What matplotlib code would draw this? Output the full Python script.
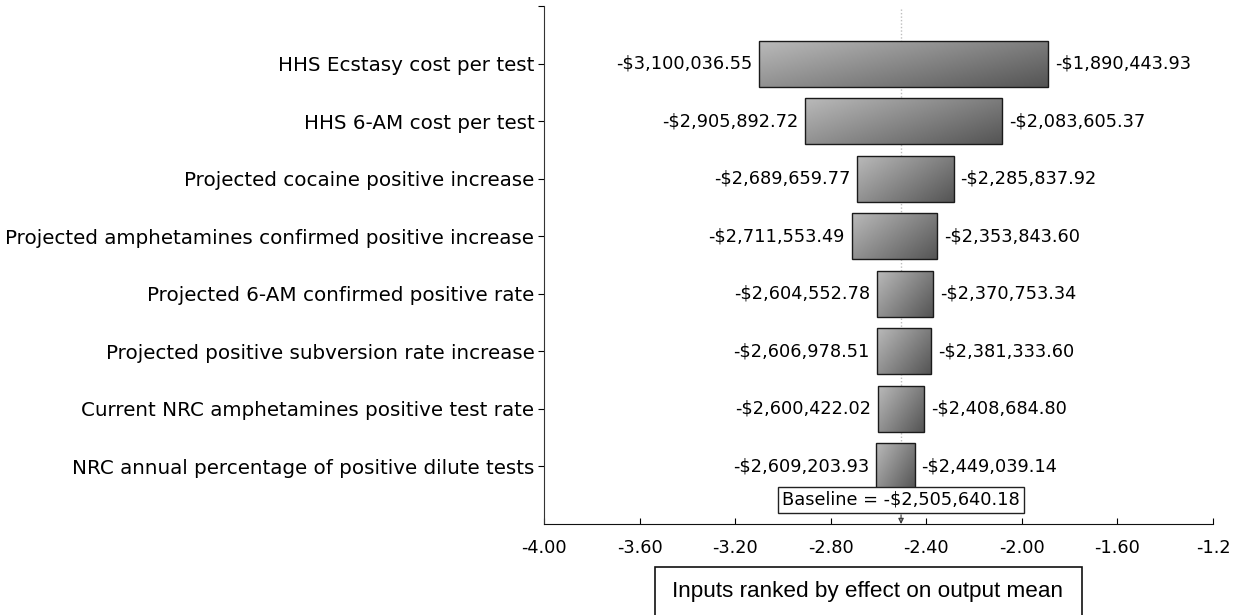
import numpy as np
import matplotlib
matplotlib.use("Agg")
import matplotlib.pyplot as plt
from matplotlib.colors import LinearSegmentedColormap
from matplotlib.patches import Rectangle

categories = [
    "HHS Ecstasy cost per test",
    "HHS 6-AM cost per test",
    "Projected cocaine positive increase",
    "Projected amphetamines confirmed positive increase",
    "Projected 6-AM confirmed positive rate",
    "Projected positive subversion rate increase",
    "Current NRC amphetamines positive test rate",
    "NRC annual percentage of positive dilute tests",
]
low_values = [-3100036.55, -2905892.72, -2689659.77, -2711553.49,
              -2604552.78, -2606978.51, -2600422.02, -2609203.93]
high_values = [-1890443.93, -2083605.37, -2285837.92, -2353843.60,
               -2370753.34, -2381333.60, -2408684.80, -2449039.14]
baseline = -2505640.18
x_ticks = [-4.0, -3.6, -3.2, -2.8, -2.4, -2.0, -1.6, -1.2]
x_tick_labels = ["-4.00", "-3.60", "-3.20", "-2.80", "-2.40", "-2.00", "-1.60", "-1.2"]
x_title = "Inputs ranked by effect on output mean"

W, H = 1236, 615
fig = plt.figure(figsize=(W / 100, H / 100), dpi=100)
ax_left, ax_right, ax_top, ax_bot = 544, 1213, 6, 524
ax = fig.add_axes([ax_left / W, 1 - ax_bot / H, (ax_right - ax_left) / W, (ax_bot - ax_top) / H])

font = {"family": "DejaVu Sans"}
fs = 12.8
fs_cat = 14.3

cmap = LinearSegmentedColormap.from_list("g", ["#bababa", "#555555"])
uu, vv = np.meshgrid(np.linspace(0, 1, 60), np.linspace(0, 1, 30))
grad = 0.6 * uu + 0.4 * vv

n = len(categories)
bh = 0.8
for i, (lo, hi) in enumerate(zip(low_values, high_values)):
    x0, x1 = lo / 1e6, hi / 1e6
    y0, y1 = i - bh / 2, i + bh / 2
    im = ax.imshow(grad, cmap=cmap, extent=[x0, x1, y1, y0], aspect="auto",
                   interpolation="bilinear", zorder=2, vmin=0, vmax=1)
    rect = Rectangle((x0, y0), x1 - x0, bh, facecolor="none", edgecolor="#1a1a1a",
                     linewidth=1.0, zorder=3)
    ax.add_patch(rect)
    im.set_clip_path(rect)
    ax.annotate(f"-${abs(lo):,.2f}", (x0, i), xytext=(-5, 0), textcoords="offset points",
                ha="right", va="center", fontsize=fs, **font, zorder=4)
    ax.annotate(f"-${abs(hi):,.2f}", (x1, i), xytext=(5, 0), textcoords="offset points",
                ha="left", va="center", fontsize=fs, **font, zorder=4)

b = baseline / 1e6
ax.plot([b, b], [-0.95, n - 0.6], color="#bdbdbd", linestyle=(0, (1, 1.5)), linewidth=1, zorder=1)

ax.set_xlim(-4.0, -1.2)
ax.set_ylim(n, -1)
ax.set_yticks([-1] + list(range(n)))
ax.set_yticklabels([""] + categories, fontsize=fs_cat, **font)
ax.set_xticks(x_ticks)
ax.set_xticklabels(x_tick_labels, fontsize=fs, **font)
ax.tick_params(axis="x", direction="in", length=4, pad=11)
ax.tick_params(axis="y", direction="out", length=4, pad=3)
for s in ["top", "right"]:
    ax.spines[s].set_visible(False)
ax.spines["left"].set_color("#333333")
ax.spines["bottom"].set_color("#111111")

# baseline label box
ax.annotate(f"Baseline = -${abs(baseline):,.2f}", (b, n - 0.42), ha="center", va="center",
            fontsize=12.8, **font, zorder=5,
            bbox=dict(boxstyle="square,pad=0.22", facecolor="white", edgecolor="#222222", linewidth=1))
ax.annotate("", xy=(b, n), xytext=(b, n - 0.16),
            arrowprops=dict(arrowstyle="-|>", color="#333333", lw=0.8, mutation_scale=8,
                            shrinkA=0, shrinkB=0, fill=False), zorder=5)

# x-axis title in box
fig.patches.append(Rectangle((655 / W, 1 - 640 / H), (1082 - 655) / W, (640 - 567) / H,
                             transform=fig.transFigure, facecolor="white", edgecolor="#111111",
                             linewidth=1.2))
fig.text(868 / W, 1 - 592 / H, x_title, ha="center", va="center", fontsize=16.2,
         family="Liberation Sans")

fig.savefig("out.png", dpi=100)
